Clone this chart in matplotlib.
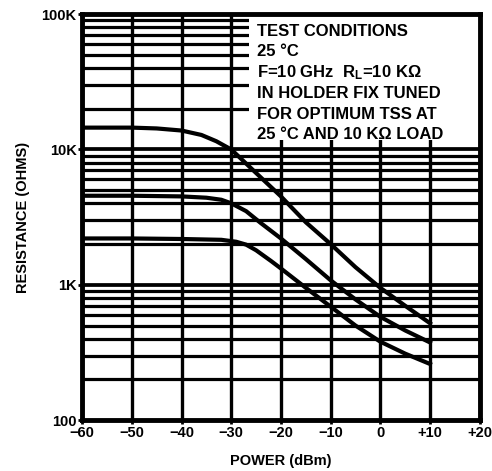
import numpy as np
import matplotlib
matplotlib.use("Agg")
import matplotlib.pyplot as plt
from matplotlib.patches import Rectangle

plt.rcParams['font.family'] = ['Liberation Sans', 'DejaVu Sans']
plt.rcParams['font.weight'] = 'bold'
plt.rcParams['mathtext.fontset'] = 'custom'
plt.rcParams['mathtext.rm'] = 'Liberation Sans:bold'
plt.rcParams['mathtext.it'] = 'Liberation Sans:bold'
plt.rcParams['mathtext.bf'] = 'Liberation Sans:bold'

# courbes (puissance en dBm, résistance en ohms)
power_high = [-60, -50, -45, -40, -36, -33, -30, -25, -20, -15, -10, -5, 0, 5, 10]
res_high = [14500, 14500, 14300, 13800, 12800, 11500, 10000, 6700, 4500, 2900, 2000, 1350, 950, 700, 520]

power_mid = [-60, -50, -40, -35, -32, -30, -27, -24, -20, -15, -10, -5, 0, 5, 10]
res_mid = [4550, 4550, 4500, 4400, 4250, 4000, 3500, 2850, 2200, 1550, 1080, 780, 580, 460, 375]

power_low = [-60, -50, -40, -32, -29, -27, -25, -22, -20, -15, -10, -5, 0, 5, 10]
res_low = [2200, 2200, 2180, 2150, 2080, 1980, 1800, 1500, 1320, 950, 690, 500, 380, 310, 260]

x_ticks = [-60, -50, -40, -30, -20, -10, 0, 10, 20]
x_labels = ['\u221260', '\u221250', '\u221240', '\u221230', '\u221220', '\u221210', '0', '+10', '+20']
y_ticks = [100, 1000, 10000, 100000]
y_labels = ['100', '1K', '10K', '100K']

conditions = ["TEST CONDITIONS",
              "25 \u00b0C",
              "F=10 GHz  R$_\\mathrm{L}$=10 K\u03a9",
              "IN HOLDER FIX TUNED",
              "FOR OPTIMUM TSS AT",
              "25 \u00b0C AND 10 K\u03a9 LOAD"]

fig = plt.figure(figsize=(4.92, 4.71), dpi=100)
ax = fig.add_axes([0.167, 0.108, 0.808, 0.862])
ax.set_yscale('log')
ax.set_xlim(-60, 20)
ax.set_ylim(100, 100000)

# grille épaisse comme sur le papier
for x in x_ticks:
    ax.axvline(x, color='black', lw=2.4, zorder=1)
for dec in [100, 1000, 10000]:
    for m in range(2, 10):
        ax.axhline(dec * m, color='black', lw=2.3, zorder=1)
ax.axhline(1000, color='black', lw=2.7, zorder=1)
ax.axhline(10000, color='black', lw=2.7, zorder=1)

# encadré des conditions de test
ax.add_patch(Rectangle((0.42, 0.69), 0.58, 0.31, transform=ax.transAxes,
                       facecolor='white', edgecolor='none', zorder=3))
ypos = 0.958
for line in conditions:
    ax.text(0.44, ypos, line, transform=ax.transAxes, fontsize=12, fontweight='bold',
            va='center', ha='left', zorder=4)
    ypos -= 0.051

ax.plot(power_high, res_high, color='black', lw=3.0, zorder=2)
ax.plot(power_mid, res_mid, color='black', lw=3.0, zorder=2)
ax.plot(power_low, res_low, color='black', lw=3.0, zorder=2)

ax.set_xticks(x_ticks)
ax.set_xticklabels(x_labels, fontsize=10.5, fontweight='bold')
ax.set_yticks(y_ticks)
ax.set_yticklabels(y_labels, fontsize=10.5, fontweight='bold')
ax.yaxis.set_minor_locator(matplotlib.ticker.NullLocator())
ax.tick_params(axis='both', length=3, width=2, pad=1)

for s in ax.spines.values():
    s.set_linewidth(3.5)
    s.set_zorder(5)

ax.set_xlabel('POWER (dBm)', fontsize=10.5, fontweight='bold', labelpad=10)
ax.set_ylabel('RESISTANCE (OHMS)', fontsize=10.5, fontweight='bold', labelpad=8)

fig.savefig('out.png', dpi=100)
